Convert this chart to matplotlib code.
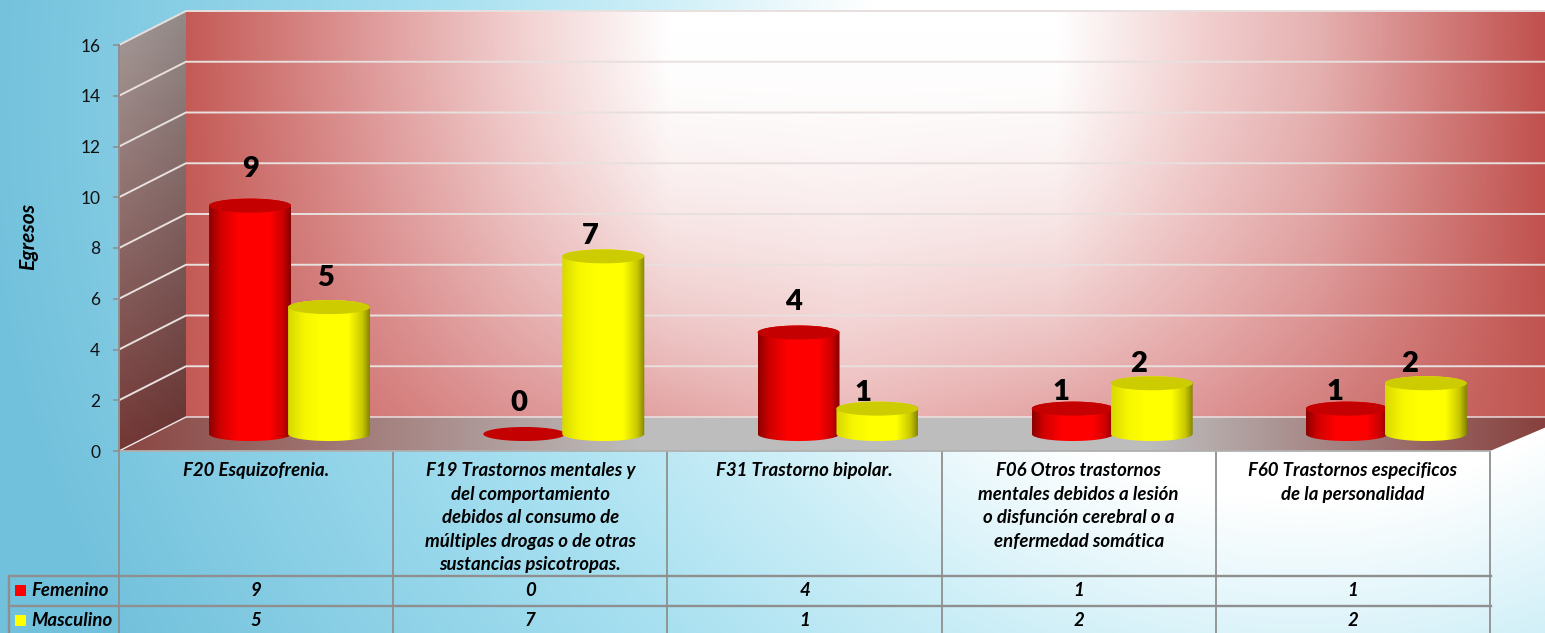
import numpy as np
import matplotlib
matplotlib.use("Agg")
import matplotlib.pyplot as plt
from matplotlib.patches import Polygon, Rectangle
from matplotlib.colors import LinearSegmentedColormap

categories = ["F20 Esquizofrenia.",
              "F19 Trastornos mentales y\ndel comportamiento\ndebidos al consumo de\nmúltiples drogas o de otras\nsustancias psicotropas.",
              "F31 Trastorno bipolar.",
              "F06 Otros trastornos\nmentales debidos a lesión\no disfunción cerebral o a\nenfermedad somática",
              "F60 Trastornos especificos\nde la personalidad"]
femenino = [9, 0, 4, 1, 1]
masculino = [5, 7, 1, 2, 2]
y_ticks = [0, 2, 4, 6, 8, 10, 12, 14, 16]
# hand-placed label offsets in the source chart (pixels from cylinder top)
fem_label_off = [(0, 37), (-5, 31), (-5, 30), (-12, 17), (-12, 17)]
mas_label_off = [(-4, 29), (-13, 20), (-14, 16), (-13, 19), (-16, 19)]

W, H = 1545, 633
FONT = "Lato"
plt.rcParams["font.family"] = [FONT, "DejaVu Sans"]
fig = plt.figure(figsize=(W / 100, H / 100), dpi=100)

bg = fig.add_axes([0, 0, 1, 1])
bg.set_xlim(0, W); bg.set_ylim(H, 0); bg.axis("off")
X, Y = np.meshgrid(np.arange(W) + .5, np.arange(H) + .5)


def ramp(d, stops):
    pos = [s[0] for s in stops]
    cols = np.array([matplotlib.colors.to_rgb(s[1]) for s in stops])
    return np.stack([np.interp(d, pos, cols[:, i]) for i in range(3)], -1)


# page background
d = np.sqrt(((X - 1300) / 440) ** 2 + ((Y - 100) / 400) ** 2)
img = ramp(d, [(1, "#ffffff"), (1.5, "#cbeef7"), (2, "#a5dff0"), (3, "#72c1dc")])
bg.imshow(img, extent=(0, W, H, 0), aspect="auto", zorder=0)


def shaded(img, poly, z=1):
    im = bg.imshow(img, extent=(0, W, H, 0), aspect="auto", zorder=z)
    p = Polygon(poly, closed=True, transform=bg.transData, fc="none", ec="none")
    bg.add_patch(p)
    im.set_clip_path(p)


# back wall: a light band at the top, fading to pink at the floor
wall_top = ramp(X, [(186, "#c45a56"), (400, "#e3a5a5"), (520, "#f2d0d0"), (670, "#ffffff"),
                    (1057, "#ffffff"), (1200, "#f2d0d0"), (1320, "#e5b0b0"), (1545, "#c0504d")])
wall_bot = ramp(X, [(186, "#c45a56"), (500, "#dc9090"), (850, "#ecb8b8"), (1200, "#de9494"), (1545, "#c05550")])
f = np.clip((Y - 30) / 387, 0, 1)[..., None] ** 1.8
shaded(wall_top * (1 - f) + wall_bot * f, [(186, 11), (W, 11), (W, 417), (186, 417)])
# floor
shaded(ramp(X, [(119, "#8a4541"), (640, "#bdbdbd"), (1150, "#bdbdbd"), (1545, "#87403d")]),
       [(119, 451), (186, 417), (1570, 417), (1490, 451)])
# side wall
side = ramp(Y, [(11, "#a69c9a"), (451, "#733735")]) * (1 - .12 * np.clip((X - 119) / 67, 0, 1))[..., None]
shaded(side, [(119, 45), (186, 11), (186, 417), (119, 451)])

GRID = "#e8e0de"
YPX = 25.375
for k in range(1, 9):
    yb = 417 - 2 * k * YPX
    bg.plot([119, 186, W], [yb + 34, yb, yb], color=GRID, lw=1.4, zorder=2, solid_joinstyle="miter")
bg.plot([119, 186, W], [451, 417, 417], color="#eee8e8", lw=1.0, zorder=2)

# table
LINE = "#8f8f8f"
cols = np.linspace(119, 1490, 6)
for c in cols:
    bg.plot([c, c], [451, H], color=LINE, lw=1.3, zorder=3)
bg.plot([119, 1490], [451, 451], color="#b0b0b0", lw=1.3, zorder=3)
for yy in (576, 606):
    bg.plot([8.5, 1491], [yy, yy], color=LINE, lw=1.7, zorder=3)
bg.plot([8.5, 8.5], [576, H], color=LINE, lw=1.7, zorder=3)

TXT = dict(fontweight="bold", fontstyle="italic", color="black", ha="center", va="center", zorder=5)
FS = 13.4
for i, cat in enumerate(categories):
    cx = (cols[i] + cols[i + 1]) / 2
    for j, line in enumerate(cat.split("\n")):
        bg.text(cx, 470.5 + 23.6 * j, line, fontsize=FS, **TXT)
    bg.text(cx, 591, str(femenino[i]), fontsize=FS, **TXT)
    bg.text(cx, 621, str(masculino[i]), fontsize=FS, **TXT)

bg.add_patch(Rectangle((15, 585), 11, 11, fc="#ff0000", ec="none", zorder=5))
bg.add_patch(Rectangle((15, 615), 11, 11, fc="#ffff00", ec="none", zorder=5))
bg.text(31, 590.5, "Femenino", fontsize=FS, **{**TXT, "ha": "left"})
bg.text(31, 621, "Masculino", fontsize=FS, **{**TXT, "ha": "left"})
bg.text(28.5, 236, "Egresos", fontsize=15, rotation=90, **TXT)

# data axes
ax = fig.add_axes([119 / W, 1 - 451 / H, (1490 - 119) / W, (451 - 45) / H])
ax.patch.set_alpha(0)
ax.set_xlim(0, 5); ax.set_ylim(0, 16)
for s in ("top", "right", "bottom"):
    ax.spines[s].set_visible(False)
ax.spines["left"].set_color(LINE); ax.spines["left"].set_linewidth(1.4)
ax.set_xticks([])
ax.set_yticks(y_ticks)
ax.tick_params(axis="y", length=4.5, width=1.2, color=LINE, labelsize=12.5, pad=9, labelcolor="#111111")

DX, DY = 33.5 / 274.2, 17 / YPX      # depth shift of the bars on the floor
HW, HH = 41 / 274.2, 7 / YPX          # cylinder half-width / ellipse half-height
OFFS = 0.144
red_cm = LinearSegmentedColormap.from_list("r", [(0, "#8c0000"), (.14, "#d00000"), (.36, "#ff0000"), (.74, "#ff0000"), (.91, "#c80000"), (1, "#840000")])
yel_cm = LinearSegmentedColormap.from_list("y", [(0, "#d8d800"), (.2, "#f6f600"), (.4, "#ffff00"), (.74, "#ffff00"), (.91, "#c8c800"), (1, "#858500")])
grad = np.linspace(0, 1, 128)[None, :]
th = np.linspace(0, np.pi, 60)


def cylinder(xc, val, cm, topc, z):
    y0 = DY
    y1 = val + DY
    if val > 0:
        bx = xc - HW * np.cos(th)
        by = y0 - HH * np.sin(th)
        pts = np.r_[np.c_[bx, by], np.c_[xc + HW * np.cos(th), y1 + HH * np.sin(th)]]
        im = ax.imshow(grad, cmap=cm, extent=(xc - HW, xc + HW, y0 - HH, y1 + HH), aspect="auto", zorder=z, origin="lower")
        p = Polygon(pts, closed=True, fc="none", ec="none", transform=ax.transData)
        ax.add_patch(p)
        im.set_clip_path(p)
    ang = np.linspace(0, 2 * np.pi, 100)
    ax.fill(xc + HW * np.cos(ang), y1 + HH * np.sin(ang), color=topc, zorder=z + .1, lw=0)


for i in range(len(categories)):
    xr = i + .5 + DX - OFFS
    xy = i + .5 + DX + OFFS
    cylinder(xr, femenino[i], red_cm, "#c40000", 10 + i)
    cylinder(xy, masculino[i], yel_cm, "#cccc00", 10.5 + i)
    for xc, v, off in ((xr, femenino[i], fem_label_off[i]), (xy, masculino[i], mas_label_off[i])):
        ax.annotate(str(v), (xc, v + DY), xytext=off, textcoords="offset pixels", ha="center", va="center",
                    fontsize=21, fontweight="heavy", color="black", zorder=30, annotation_clip=False)
ax.set_xlim(0, 5); ax.set_ylim(0, 16)
fig.savefig("out.png", dpi=100)
